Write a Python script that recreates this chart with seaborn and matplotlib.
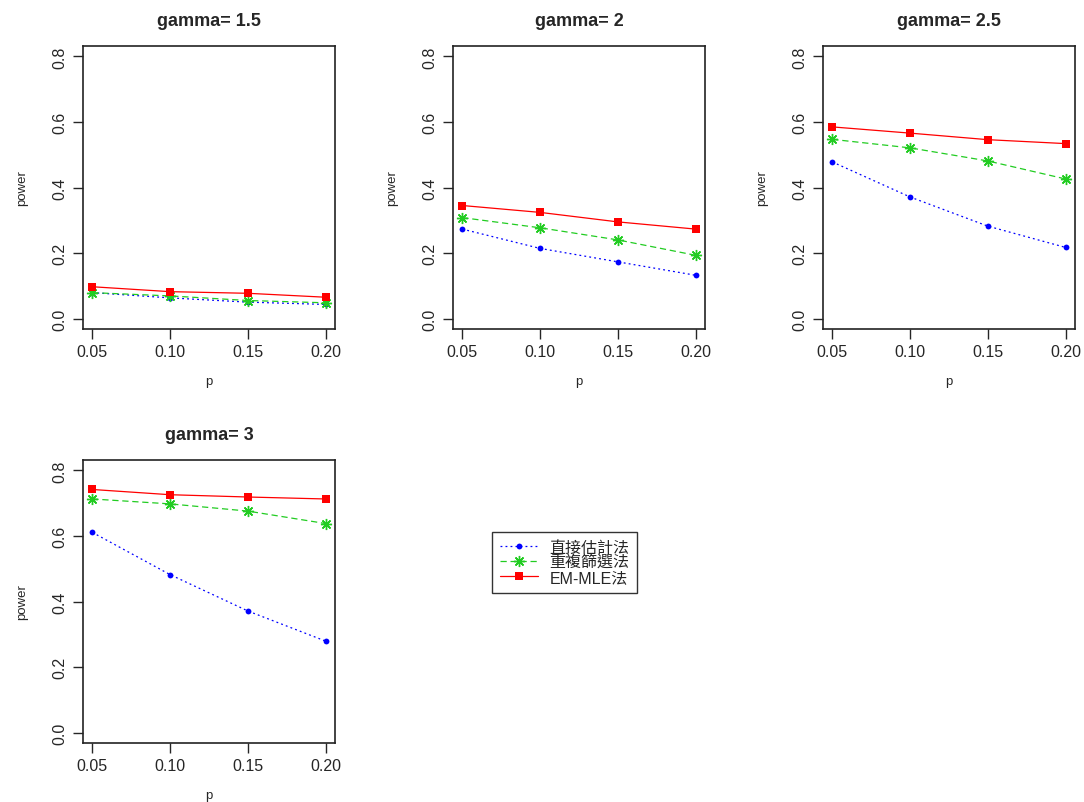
import matplotlib
matplotlib.use("Agg")
import matplotlib.pyplot as plt
import seaborn as sns
import pandas as pd
from matplotlib.lines import Line2D

# datos
p = [0.05, 0.10, 0.15, 0.20]
gammas = ["1.5", "2", "2.5", "3"]
directo = [
    [0.079, 0.063, 0.050, 0.043],
    [0.273, 0.214, 0.173, 0.132],
    [0.478, 0.371, 0.282, 0.217],
    [0.611, 0.482, 0.371, 0.279],
]
repetido = [
    [0.079, 0.069, 0.055, 0.048],
    [0.308, 0.277, 0.240, 0.193],
    [0.547, 0.521, 0.481, 0.426],
    [0.713, 0.698, 0.676, 0.638],
]
em_mle = [
    [0.097, 0.082, 0.077, 0.065],
    [0.345, 0.324, 0.295, 0.273],
    [0.585, 0.566, 0.546, 0.534],
    [0.742, 0.726, 0.719, 0.713],
]
nombres = ["直接估計法", "重複篩選法", "EM-MLE法"]

sns.set_style("white")
plt.rcParams['font.family'] = ['Liberation Sans', 'Noto Sans CJK TC', 'DejaVu Sans']

estilos = [
    dict(color="blue", linestyle=(0, (1.5, 2.5)), marker="o", markersize=4.2, markeredgewidth=0),
    dict(color="#22cc22", linestyle=(0, (5, 3)), marker=(8, 2, 0), markersize=8, markeredgewidth=1.0),
    dict(color="red", linestyle="-", marker="s", markersize=5.2, markeredgewidth=0),
]

fig = plt.figure(figsize=(10.84, 8.03), dpi=100)
W, H = 1084, 803
posiciones = [(83, 47), (453, 47), (823, 47), (83, 461)]

for i, (x0, y0) in enumerate(posiciones):
    ax = fig.add_axes([x0 / W, 1 - (y0 + 283) / H, 252 / W, 283 / H])
    series = [directo[i], repetido[i], em_mle[i]]
    for vals, st in zip(series, estilos):
        sns.lineplot(x=p, y=vals, ax=ax, linewidth=0.9, markeredgecolor=st["color"], **st)
    ax.set_xlim(0.044, 0.206)
    ax.set_ylim(-0.032, 0.832)
    ax.set_xticks(p)
    ax.set_xticklabels(["0.05", "0.10", "0.15", "0.20"])
    ax.set_yticks([0.0, 0.2, 0.4, 0.6, 0.8])
    ax.set_yticklabels(["0.0", "0.2", "0.4", "0.6", "0.8"], rotation=90, va="center")
    ax.tick_params(axis="both", direction="out", length=7, width=1, labelsize=11.5,
                   left=True, bottom=True, pad=4)
    for s in ax.spines.values():
        s.set_color("#222222")
        s.set_linewidth(1.2)
    ax.set_xlabel("p", fontsize=9.5, labelpad=11)
    ax.set_ylabel("power", fontsize=9.5, labelpad=18)
    ax.set_title("gamma= " + gammas[i], fontsize=13, fontweight="bold", pad=15)

handles = [Line2D([0], [0], linewidth=0.9, markeredgecolor=st["color"], **st) for st in estilos]
leg = fig.legend(handles, nombres, loc="upper left", bbox_to_anchor=(492 / W, 1 - 533 / H),
                 frameon=True, fancybox=False, edgecolor="black", borderaxespad=0.0,
                 labelspacing=0.0, handlelength=2.4, handletextpad=0.7, borderpad=0.5,
                 prop={"family": ["Liberation Sans", "Noto Sans CJK TC"], "size": 11.5})
leg.get_frame().set_linewidth(1.0)

fig.savefig("out.png", dpi=100)
